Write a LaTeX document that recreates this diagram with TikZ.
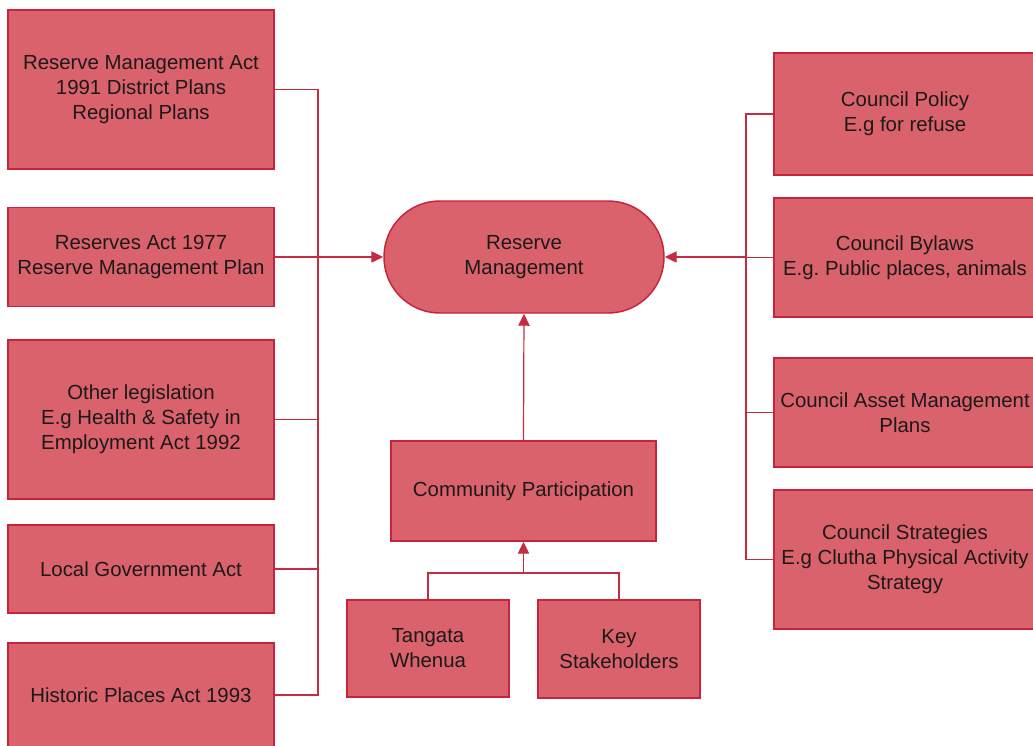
\documentclass[tikz,border=0pt]{standalone}
\usepackage{fontspec}
\setmainfont{Liberation Sans}
\frenchspacing
\usetikzlibrary{arrows.meta}
\definecolor{boxfill}{RGB}{218,98,108}
\definecolor{boxdraw}{RGB}{200,35,60}
\definecolor{linecol}{RGB}{196,45,65}
\definecolor{txt}{RGB}{30,25,25}
\tikzset{
  stepbox/.style={draw=boxdraw, line width=1.1pt, fill=boxfill, text=txt, align=center,
    inner sep=0pt, font=\fontsize{15.3}{18.8}\selectfont},
  conn/.style={draw=linecol, line width=0.9pt},
  arr/.style={conn, -{Triangle[length=9pt,width=8.5pt]}, color=linecol},
}
\begin{document}
\begin{tikzpicture}[x=0.75pt,y=-0.75pt]
\useasboundingbox (0,0) rectangle (1033,746);
% left column
\node[stepbox, minimum width=199.5pt, minimum height=119.25pt] (L1) at (141,89.5) {Reserve Management Act\\1991 District Plans\\Regional Plans};
\node[stepbox, minimum width=199.5pt, minimum height=74.25pt] (L2) at (141,257) {Reserves Act 1977\\Reserve Management Plan};
\node[stepbox, minimum width=199.5pt, minimum height=119.25pt] (L3) at (141,419.5) {Other legislation\\E.g Health \& Safety in\\Employment Act 1992};
\node[stepbox, minimum width=199.5pt, minimum height=66pt] (L4) at (141,569) {Local Government Act};
\node[stepbox, minimum width=199.5pt, minimum height=78pt] (L5) at (141,695) {Historic Places Act 1993};
% centre
\node[stepbox, minimum width=210pt, minimum height=84pt, rounded corners=41.9pt] (RM) at (524,257) {Reserve\\Management};
\node[stepbox, minimum width=198.75pt, minimum height=75pt] (CP) at (523.5,491) {Community Participation};
\node[stepbox, minimum width=121.5pt, minimum height=72.75pt] (TW) at (428,648.5) {Tangata\\Whenua};
\node[stepbox, minimum width=121.5pt, minimum height=73.5pt] (KS) at (619,649) {Key\\Stakeholders};
% right column
\node[stepbox, minimum width=196.5pt, minimum height=91.5pt] (R1) at (905,114) {Council Policy\\E.g for refuse};
\node[stepbox, minimum width=196.5pt, minimum height=89.25pt] (R2) at (905,257.5) {Council Bylaws\\E.g. Public places, animals};
\node[stepbox, minimum width=196.5pt, minimum height=81.75pt] (R3) at (905,412.5) {Council Asset Management\\Plans};
\node[stepbox, minimum width=196.5pt, minimum height=104.25pt] (R4) at (905,559.5) {Council Strategies\\E.g Clutha Physical Activity\\Strategy};
% bus coordinates
\coordinate (busL) at (318,257);
\coordinate (busR) at (746,257);
\coordinate (busB) at (523.5,573);
% left connectors
\draw[conn] (L1.east) -| (busL) |- (L5.east);
\draw[conn] (L2.east) -- (busL);
\draw[conn] (L3.east) -- (L3.east -| busL);
\draw[conn] (L4.east) -- (L4.east -| busL);
\draw[arr] (busL) -- (RM.west);
% right connectors
\draw[conn] (R1.west) -| (busR) |- (R4.west);
\draw[conn] (R2.west) -- (R2.west -| busR);
\draw[conn] (R3.west) -- (R3.west -| busR);
\draw[arr] (busR) -- (RM.east);
% bottom connectors
\draw[conn] (TW.north) |- (busB) -| (KS.north);
\draw[arr] (busB) -- (CP.south);
\draw[arr] (CP.north) -- (RM.south);
\end{tikzpicture}
\end{document}
